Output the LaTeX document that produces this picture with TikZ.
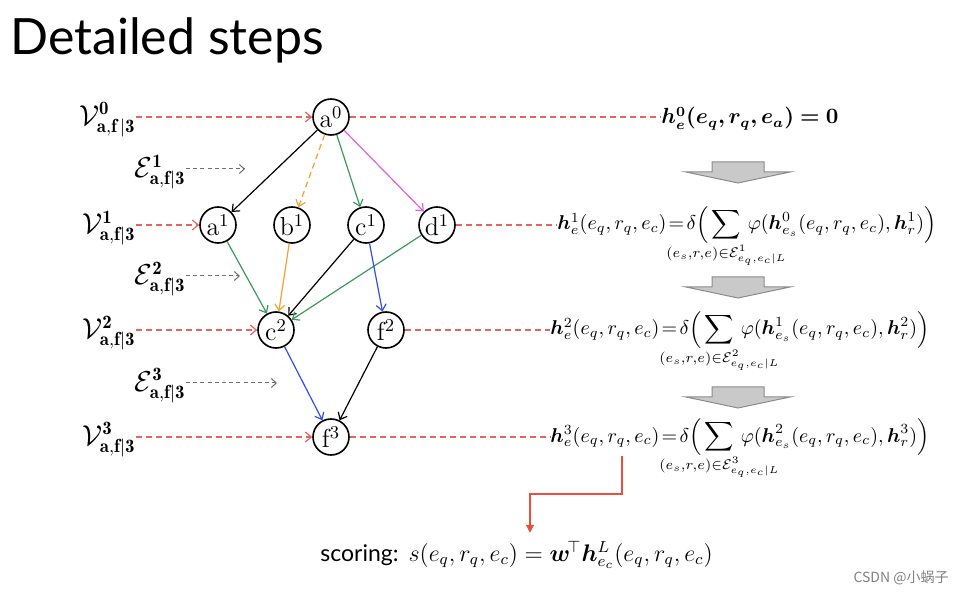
\documentclass[tikz,border=0pt]{standalone}
\usepackage{amsmath,amssymb,mathtools}
\usepackage{bm}
\usepackage{fontspec}
\newfontfamily\gillfont{Lato}
\newfontfamily\cjkfont{Noto Sans CJK SC}
\usetikzlibrary{arrows.meta,positioning,calc}
\definecolor{dsred}{HTML}{E2665E}
\definecolor{dsgreen}{HTML}{3A9A5C}
\definecolor{dsorange}{HTML}{F5A030}
\definecolor{dsmagenta}{HTML}{E35CE6}
\definecolor{dsblue}{HTML}{2F4FE8}
\definecolor{dsgray}{HTML}{6E6E6E}
\definecolor{dsblock}{HTML}{C9C9C9}
\definecolor{dsscore}{HTML}{E8503A}

\begin{document}
\begin{tikzpicture}[
    x=0.5pt, y=-0.5pt,
    on grid,
    ent/.style={circle, draw, thick, minimum size=18pt, inner sep=0pt, font=\fontsize{13}{13}\selectfont},
    edge/.style={-{Straight Barb[length=3pt, width=5pt]}, line width=0.6pt},
    feed/.style={dashed, dash pattern=on 3pt off 2pt, dsred, line width=0.6pt},
    hint/.style={-{Straight Barb[length=2.5pt, width=4.5pt]}, dash pattern=on 2pt off 1.6pt, dsgray, line width=0.5pt},
    vlab/.style={anchor=east, inner sep=0pt, font=\fontsize{13.5}{13.5}\selectfont},
    hform/.style={anchor=base west, inner sep=0pt, font=\fontsize{10.2}{12}\selectfont},
    blockarrow/.style={draw=dsgray!80, fill=dsblock, line width=0.5pt}
]
    \useasboundingbox (0,0) rectangle (959,593);
    \node[anchor=base west, inner sep=0pt, font=\gillfont\fontsize{25}{25}\selectfont] (title) at (10,55) {Detailed steps};

    % entity graph
    \node[ent] (a0) at (331,117) {a$^0$};
    \node[ent, below left=54pt and 56.5pt of a0] (a1) {a$^1$};
    \node[ent, right=37pt of a1] (b1) {b$^1$};
    \node[ent, right=37pt of b1] (c1) {c$^1$};
    \node[ent, right=35.5pt of c1] (d1) {d$^1$};
    \node[ent, below right=52.5pt and 29pt of a1] (c2) {c$^2$};
    \node[ent, right=55pt of c2] (f2) {f$^2$};
    \node[ent, below right=53.5pt and 27.5pt of c2] (f3) {f$^3$};

    \draw[edge] (a0) -- (a1);
    \draw[edge, dsorange, dashed, dash pattern=on 3pt off 2pt] (a0) -- (b1);
    \draw[edge, dsgreen] (a0) -- (c1);
    \draw[edge, dsmagenta] (a0) -- (d1);
    \draw[edge, dsgreen] (a1) -- (c2);
    \draw[edge, dsorange] (b1) -- (c2);
    \draw[edge] (c1) -- (c2);
    \draw[edge, dsgreen] (d1) -- (c2);
    \draw[edge, dsblue] (c1) -- (f2);
    \draw[edge, dsblue] (c2) -- (f3);
    \draw[edge] (f2) -- (f3);

    % node sets and edge sets
    \node[vlab, yshift=-1.5pt] (v0) at (136,0 |- a0) {$\mathcal{V}^{\mathbf{0}}_{\mathbf{a,f\,|3}}$};
    \node[vlab, yshift=-1.5pt] (v1) at (136,0 |- a1) {$\mathcal{V}^{\mathbf{1}}_{\mathbf{a,f|3}}$};
    \node[vlab, yshift=-1.5pt] (v2) at (136,0 |- c2) {$\mathcal{V}^{\mathbf{2}}_{\mathbf{a,f|3}}$};
    \node[vlab, yshift=-1.5pt] (v3) at (136,0 |- f3) {$\mathcal{V}^{\mathbf{3}}_{\mathbf{a,f|3}}$};
    \node[vlab, yshift=-1.5pt] (e1) at (186,169) {$\mathcal{E}^{\mathbf{1}}_{\mathbf{a,f|3}}$};
    \node[vlab, yshift=-1.5pt] (e2) at (186,276) {$\mathcal{E}^{\mathbf{2}}_{\mathbf{a,f|3}}$};
    \node[vlab, yshift=-1.5pt] (e3) at (186,383) {$\mathcal{E}^{\mathbf{3}}_{\mathbf{a,f|3}}$};
    \coordinate (e1end) at (245,169);
    \coordinate (e2end) at (240,276);
    \coordinate (e3end) at (277,383);

    \draw[feed, -{Straight Barb[length=3pt, width=5pt]}] (v0.east |- a0) -- (a0);
    \draw[feed, -{Straight Barb[length=3pt, width=5pt]}] (v1.east |- a1) -- (a1);
    \draw[feed, -{Straight Barb[length=3pt, width=5pt]}] (v2.east |- c2) -- (c2);
    \draw[feed, -{Straight Barb[length=3pt, width=5pt]}] (v3.east |- f3) -- (f3);
    \draw[hint] (e1.east |- e1end) -- (e1end);
    \draw[hint] (e2.east |- e2end) -- (e2end);
    \draw[hint] (e3.east |- e3end) -- (e3end);

    % layer-wise messages
    \node[hform, font=\fontsize{10.5}{12}\selectfont] (h0) at (661,124) {$\bm{h^0_e(e_q,r_q,e_a)=0}$};
    \node[hform] (h1) at (557,230) {$\bm{h}^1_e(e_q,r_q,e_c)\!=\!\delta\Big(\displaystyle\sum_{\mathclap{(e_s,r,e)\in\mathcal{E}^1_{e_q,e_c|L}}}\,\varphi(\bm{h}^0_{e_s}(e_q,r_q,e_c),\bm{h}^1_r)\Big)$};
    \node[hform] (h2) at (550,335) {$\bm{h}^2_e(e_q,r_q,e_c)\!=\!\delta\Big(\displaystyle\sum_{\mathclap{(e_s,r,e)\in\mathcal{E}^2_{e_q,e_c|L}}}\,\varphi(\bm{h}^1_{e_s}(e_q,r_q,e_c),\bm{h}^2_r)\Big)$};
    \node[hform] (h3) at (550,442) {$\bm{h}^3_e(e_q,r_q,e_c)\!=\!\delta\Big(\displaystyle\sum_{\mathclap{(e_s,r,e)\in\mathcal{E}^3_{e_q,e_c|L}}}\,\varphi(\bm{h}^2_{e_s}(e_q,r_q,e_c),\bm{h}^3_r)\Big)$};

    \draw[feed] (a0) -- (a0 -| h0.west);
    \draw[feed] (d1) -- (d1 -| h1.west);
    \draw[feed] (f2) -- (f2 -| h2.west);
    \draw[feed] (f3) -- (f3 -| h3.west);

    \foreach \t in {162,277,387}
        \draw[blockarrow] (712,\t) -- (764,\t) -- (764,\t+10) -- (790,\t+10) -- (738,\t+21) -- (686,\t+10) -- (712,\t+10) -- cycle;

    % scoring
    \node[anchor=base west, inner sep=0pt, font=\fontsize{11.5}{14}\selectfont] (score) at (320,561)
        {{\gillfont scoring:} $s(e_q,r_q,e_c)=\bm{w}^{\!\top}\bm{h}^L_{e_c}(e_q,r_q,e_c)$};
    \coordinate (h3out) at (622,456);
    \coordinate (bend) at (530,494);
    \draw[dsscore, line width=0.6pt, -{Triangle[length=4pt, width=4pt]}] (h3out) |- (bend) -- ($(bend |- score.north)+(0,-8)$);

    \node[anchor=base east, inner sep=0pt, text=gray, font=\cjkfont\fontsize{7}{7}\selectfont] (mark) at (949,582) {CSDN @小蜗子};
\end{tikzpicture}
\end{document}
